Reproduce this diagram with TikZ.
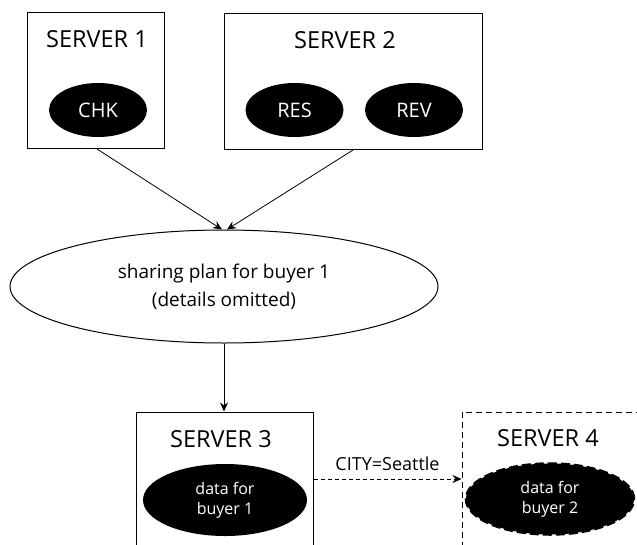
\documentclass[tikz,border=0pt]{standalone}
\usepackage{fontspec}
\setmainfont{Open Sans}
\usetikzlibrary{shapes.geometric,arrows.meta}
\begin{document}
\begin{tikzpicture}[x=1pt,y=-1pt,
  server/.style={draw,line width=1pt,rectangle,inner sep=0pt},
  dserver/.style={draw,line width=1pt,dash pattern=on 6pt off 4pt,rectangle,inner sep=0pt},
  title/.style={font=\fontsize{23.5}{26}\selectfont},
  blob/.style={ellipse,fill=black,text=white,inner sep=0pt,minimum width=98pt,minimum height=54pt,font=\fontsize{20}{24}\selectfont},
  dblob/.style={ellipse,fill=black,text=white,inner sep=0pt,align=center,font=\fontsize{16}{20}\selectfont},
  arr/.style={-{Stealth[length=9pt,width=8pt,inset=3pt]},line width=0.8pt}]
\useasboundingbox (0,0) rectangle (637,544);
\clip (0,0) rectangle (637,544);
% server boxes
\node[server,minimum width=137pt,minimum height=136pt] (s1) at (95.5,80.5) {};
\node[server,minimum width=258pt,minimum height=136pt] (s2) at (353,81.5) {};
\node[server,minimum width=177pt,minimum height=160pt] (s3) at (224.5,492) {};
\node[dserver,minimum width=200pt,minimum height=160pt] (s4) at (562,492) {};
% titles
\node[title] (t1) at (97,39) {SERVER 1};
\node[title] (t2) at (345,40) {SERVER 2};
\node[title] (t3) at (221,439) {SERVER 3};
\node[title] (t4) at (548,438) {SERVER 4};
% inner ellipses
\node[blob] (chk) at (98,110) {CHK};
\node[blob] (res) at (294.5,110) {RES};
\node[blob] (rev) at (414,110) {REV};
\node[dblob,minimum width=164pt,minimum height=72pt] (d1) at (225,500) {data for\\buyer 1};
\node[dblob,minimum width=168pt,minimum height=71pt,draw=black,line width=2.5pt,dash pattern=on 9pt off 4pt] (d2) at (550,499) {data for\\buyer 2};
% plan
\node[ellipse,draw,line width=1pt,minimum width=428pt,minimum height=113pt,inner sep=0pt,align=center,font=\fontsize{19}{28}\selectfont] (plan) at (224,286.5) {sharing plan for buyer 1\\(details omitted)};
% connectors
\coordinate (p1) at (97,149);
\coordinate (p2) at (353,150);
\draw[arr] (p1) -- (plan.north -| 222,0);
\draw[arr] (p2) -- (plan.north -| 227,0);
\draw[arr] (plan.south -| 224,0) -- (s3.north -| 224,0);
\draw[arr,dash pattern=on 4pt off 3pt] (s3.east |- 0,479) -- node[above=5pt,font=\fontsize{18}{21}\selectfont] (lab) {CITY=Seattle} (s4.west |- 0,479);
\end{tikzpicture}
\end{document}
